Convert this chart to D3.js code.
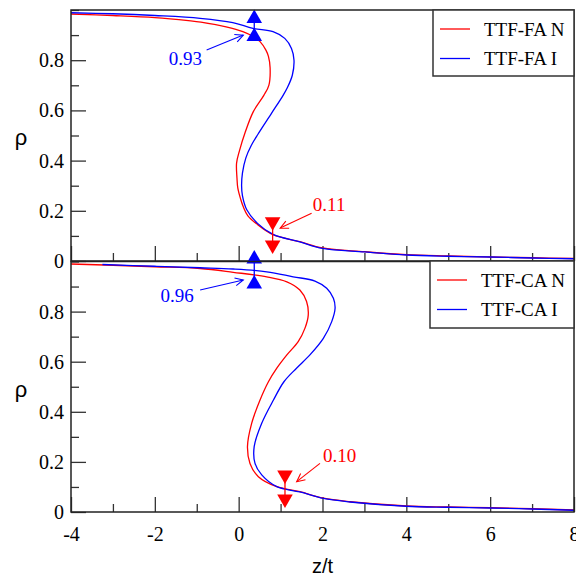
<!DOCTYPE html>
<html>
<head>
<meta charset="utf-8">
<script src="https://cdn.jsdelivr.net/npm/d3@7"></script>
<style>
  body { margin: 0; background: #fff; }
  svg { display: block; }
  .tick text { font-family: 'Liberation Serif', 'Times New Roman', serif; }
</style>
</head>
<body>
<svg id="chart" width="576" height="581"></svg>
<script>
// ---- axis ticks ----
const zTicks = [-4, -2, 0, 2, 4, 6, 8];
const zMinor = [-3, -1, 1, 3, 5, 7];
const rhoTicks = [0, 0.2, 0.4, 0.6, 0.8];
const rhoMinor = [0.1, 0.3, 0.5, 0.7, 0.9, 1.0];

// ---- density profiles rho(z/t): [z, rho] ----
const faN = [[-4,0.984],[-3,0.978],[-2,0.970],[-1.2,0.958],[-0.9,0.952],[-0.3,0.933],[0.1,0.914],[0.35,0.894],[0.51,0.874],[0.65,0.84],[0.71,0.815],[0.75,0.77],[0.72,0.70],[0.6,0.66],[0.35,0.595],[0.15,0.51],[0.02,0.44],[-0.05,0.39],[-0.04,0.33],[-0.02,0.29],[0.05,0.245],[0.11,0.216],[0.22,0.18],[0.43,0.148],[0.82,0.105],[1.46,0.077],[2.0,0.052],[3.0,0.037],[4.0,0.025],[5.0,0.020],[6.0,0.016],[7.0,0.013],[8.0,0.010]];
const faI = [[-4,0.989],[-3,0.985],[-2,0.978],[-0.92,0.967],[-0.14,0.950],[0.34,0.927],[0.82,0.914],[1.1,0.887],[1.26,0.847],[1.32,0.80],[1.28,0.74],[1.16,0.69],[1.06,0.66],[0.79,0.59],[0.46,0.505],[0.3,0.46],[0.17,0.41],[0.09,0.35],[0.07,0.30],[0.09,0.26],[0.19,0.205],[0.45,0.15],[0.82,0.106],[1.46,0.076],[2.0,0.050],[3.0,0.036],[4.0,0.024],[5.0,0.019],[6.0,0.016],[7.0,0.012],[8.0,0.009]];
const caN = [[-4,0.990],[-3,0.985],[-2,0.979],[-0.92,0.972],[-0.13,0.957],[0.67,0.939],[1.15,0.919],[1.46,0.886],[1.62,0.84],[1.66,0.786],[1.58,0.733],[1.42,0.68],[1.15,0.627],[0.91,0.574],[0.71,0.52],[0.51,0.447],[0.31,0.354],[0.21,0.261],[0.27,0.194],[0.47,0.141],[0.91,0.101],[1.46,0.081],[2.02,0.055],[2.66,0.041],[4.0,0.024],[5.0,0.020],[6.0,0.017],[7.0,0.013],[8.0,0.008]];
const caI = [[-3.25,0.988],[-2,0.981],[-0.92,0.975],[-0.13,0.970],[0.67,0.959],[1.30,0.939],[1.82,0.922],[2.10,0.893],[2.26,0.853],[2.30,0.813],[2.22,0.76],[2.02,0.693],[1.70,0.627],[1.38,0.574],[1.08,0.52],[0.83,0.447],[0.55,0.354],[0.37,0.261],[0.39,0.194],[0.55,0.148],[0.91,0.101],[1.46,0.080],[2.02,0.054],[2.66,0.040],[4.0,0.023],[5.0,0.019],[6.0,0.016],[7.0,0.012],[8.0,0.007]];

const faLabels = ["TTF-FA N", "TTF-FA I"];
const caLabels = ["TTF-CA N", "TTF-CA I"];

// interface density bars: [z, rho, half-spread]
const faBarN = [0.81, 0.11, 0.046];
const faBarI = [0.372, 0.93, 0.036];
const caBarN = [1.105, 0.10, 0.048];
const caBarI = [0.372, 0.96, 0.05];

// callouts: text, text position, arrow tail, arrow head (data units)
const faNoteN = { text: "0.11", at: [1.77, 0.199], anchor: "start", from: [1.74, 0.19], to: [0.99, 0.131] };
const faNoteI = { text: "0.93", at: [-0.876, 0.78], anchor: "end", from: [-0.764, 0.841], to: [0.11, 0.90] };
const caNoteN = { text: "0.10", at: [2.01, 0.20], anchor: "start", from: [1.94, 0.194], to: [1.384, 0.121] };
const caNoteI = { text: "0.96", at: [-1.07, 0.838], anchor: "end", from: [-0.92, 0.886], to: [0.11, 0.926] };

const RED = "#ff0000", BLUE = "#0000ff";
const SERIF = "'Liberation Serif', 'Times New Roman', serif";
const SANS = "'Liberation Sans', Arial, sans-serif";

const svg = d3.select("#chart");
const left = 71, right = 574;
const x = d3.scaleLinear().domain([-4, 8]).range([left, right]);

const panels = [
  { top: 10, bottom: 261, series: [faN, faI], labels: faLabels, bars: [faBarN, faBarI], notes: [faNoteN, faNoteI],
    legend: { x: 433, y: 10, w: 141, h: 66 } },
  { top: 261.5, bottom: 512, series: [caN, caI], labels: caLabels, bars: [caBarN, caBarI], notes: [caNoteN, caNoteI],
    legend: { x: 430, y: 261, w: 144, h: 67 } }
];
const colors = [RED, BLUE];

function styleAxis(s) {
  s.attr("font-family", SERIF).attr("font-size", 20);
  s.select(".domain").remove();
  s.selectAll("line").attr("stroke", "#333").attr("stroke-width", 1.3);
  s.selectAll("text").attr("font-family", SERIF).attr("font-size", 20).attr("fill", "#000");
}

panels.forEach((p, pi) => {
  const y = d3.scaleLinear().domain([0, 1]).range([p.bottom, p.top]);
  const g = svg.append("g");

  // minor ticks
  g.append("g").attr("transform", `translate(${left},0)`)
    .call(d3.axisLeft(y).tickValues(rhoMinor).tickSizeInner(-8).tickSizeOuter(0).tickFormat(""))
    .call(styleAxis);
  g.append("g").attr("transform", `translate(0,${p.bottom})`)
    .call(d3.axisBottom(x).tickValues(zMinor).tickSizeInner(-8).tickSizeOuter(0).tickFormat(""))
    .call(styleAxis);

  // major ticks + labels
  g.append("g").attr("transform", `translate(${left},0)`)
    .call(d3.axisLeft(y).tickValues(rhoTicks).tickSizeInner(-15).tickSizeOuter(0).tickPadding(7)
      .tickFormat(d => d === 0 ? "0" : d.toFixed(1)))
    .call(styleAxis);

  const xAxis = d3.axisBottom(x).tickValues(zTicks).tickSizeInner(-15).tickSizeOuter(0).tickPadding(15)
    .tickFormat(d => String(d));
  if (pi === 0) xAxis.tickFormat("");
  g.append("g").attr("transform", `translate(0,${p.bottom})`)
    .call(xAxis)
    .call(styleAxis);

  // y axis title
  g.append("text")
    .attr("x", 21).attr("y", (p.top + p.bottom) / 2 + 4)
    .attr("text-anchor", "middle").attr("dominant-baseline", "middle")
    .attr("font-family", SANS).attr("font-size", 22).text("ρ");

  // profiles
  const line = d3.line().x(d => x(d[0])).y(d => y(d[1])).curve(d3.curveCatmullRom.alpha(0.5));
  p.series.forEach((s, i) => {
    g.append("path").datum(s).attr("d", line)
      .attr("fill", "none").attr("stroke", colors[i]).attr("stroke-width", 1.3);
  });

  // interface bars with triangle markers
  p.bars.forEach((b, i) => {
    const [bz, bv, be] = b;
    const c = colors[i];
    const ends = [bv + be, bv - be];
    g.append("line")
      .attr("x1", x(bz)).attr("x2", x(bz))
      .attr("y1", y(ends[0])).attr("y2", y(ends[1]))
      .attr("stroke", c).attr("stroke-width", 1.3);
    const sym = d3.symbol().type(d3.symbolTriangle).size(105);
    ends.forEach(v => {
      g.append("path").attr("d", sym)
        .attr("transform", `translate(${x(bz)},${y(v)}) rotate(${i === 0 ? 180 : 0})`)
        .attr("fill", c);
    });
  });

  // callouts
  p.notes.forEach((n, i) => {
    const c = colors[i];
    g.append("text")
      .attr("x", x(n.at[0])).attr("y", y(n.at[1]))
      .attr("text-anchor", n.anchor)
      .attr("font-family", SERIF).attr("font-size", 19).attr("fill", c)
      .text(n.text);
    const x1 = x(n.from[0]), y1 = y(n.from[1]), x2 = x(n.to[0]), y2 = y(n.to[1]);
    g.append("line").attr("x1", x1).attr("y1", y1).attr("x2", x2).attr("y2", y2)
      .attr("stroke", c).attr("stroke-width", 1.1);
    const ang = Math.atan2(y1 - y2, x1 - x2), L = 9, spread = 0.45;
    const a1 = [x2 + L * Math.cos(ang + spread), y2 + L * Math.sin(ang + spread)];
    const a2 = [x2 + L * Math.cos(ang - spread), y2 + L * Math.sin(ang - spread)];
    g.append("path")
      .attr("d", `M${a1[0]},${a1[1]}L${x2},${y2}L${a2[0]},${a2[1]}`)
      .attr("fill", "none").attr("stroke", c).attr("stroke-width", 1.1);
  });

  // frame
  g.append("rect")
    .attr("x", left).attr("y", p.top).attr("width", right - left).attr("height", p.bottom - p.top)
    .attr("fill", "none").attr("stroke", "#222").attr("stroke-width", 1.5);

  // legend
  const L = p.legend;
  const lg = g.append("g");
  lg.append("rect").attr("x", L.x).attr("y", L.y).attr("width", L.w).attr("height", L.h)
    .attr("fill", "#fff").attr("stroke", "#333").attr("stroke-width", 1.5);
  p.labels.forEach((t, i) => {
    const cy = L.y + 19 + i * 29.5;
    lg.append("line").attr("x1", L.x + 7).attr("x2", L.x + 37).attr("y1", cy).attr("y2", cy)
      .attr("stroke", colors[i]).attr("stroke-width", 1.3);
    lg.append("text").attr("x", L.x + 51).attr("y", cy + 6.5)
      .attr("font-family", SERIF).attr("font-size", 19).attr("fill", "#000").text(t);
  });
});

// x axis title
svg.append("text")
  .attr("x", (left + right) / 2).attr("y", 573)
  .attr("text-anchor", "middle")
  .attr("font-family", SANS).attr("font-size", 20).text("z/t");
</script>
</body>
</html>
